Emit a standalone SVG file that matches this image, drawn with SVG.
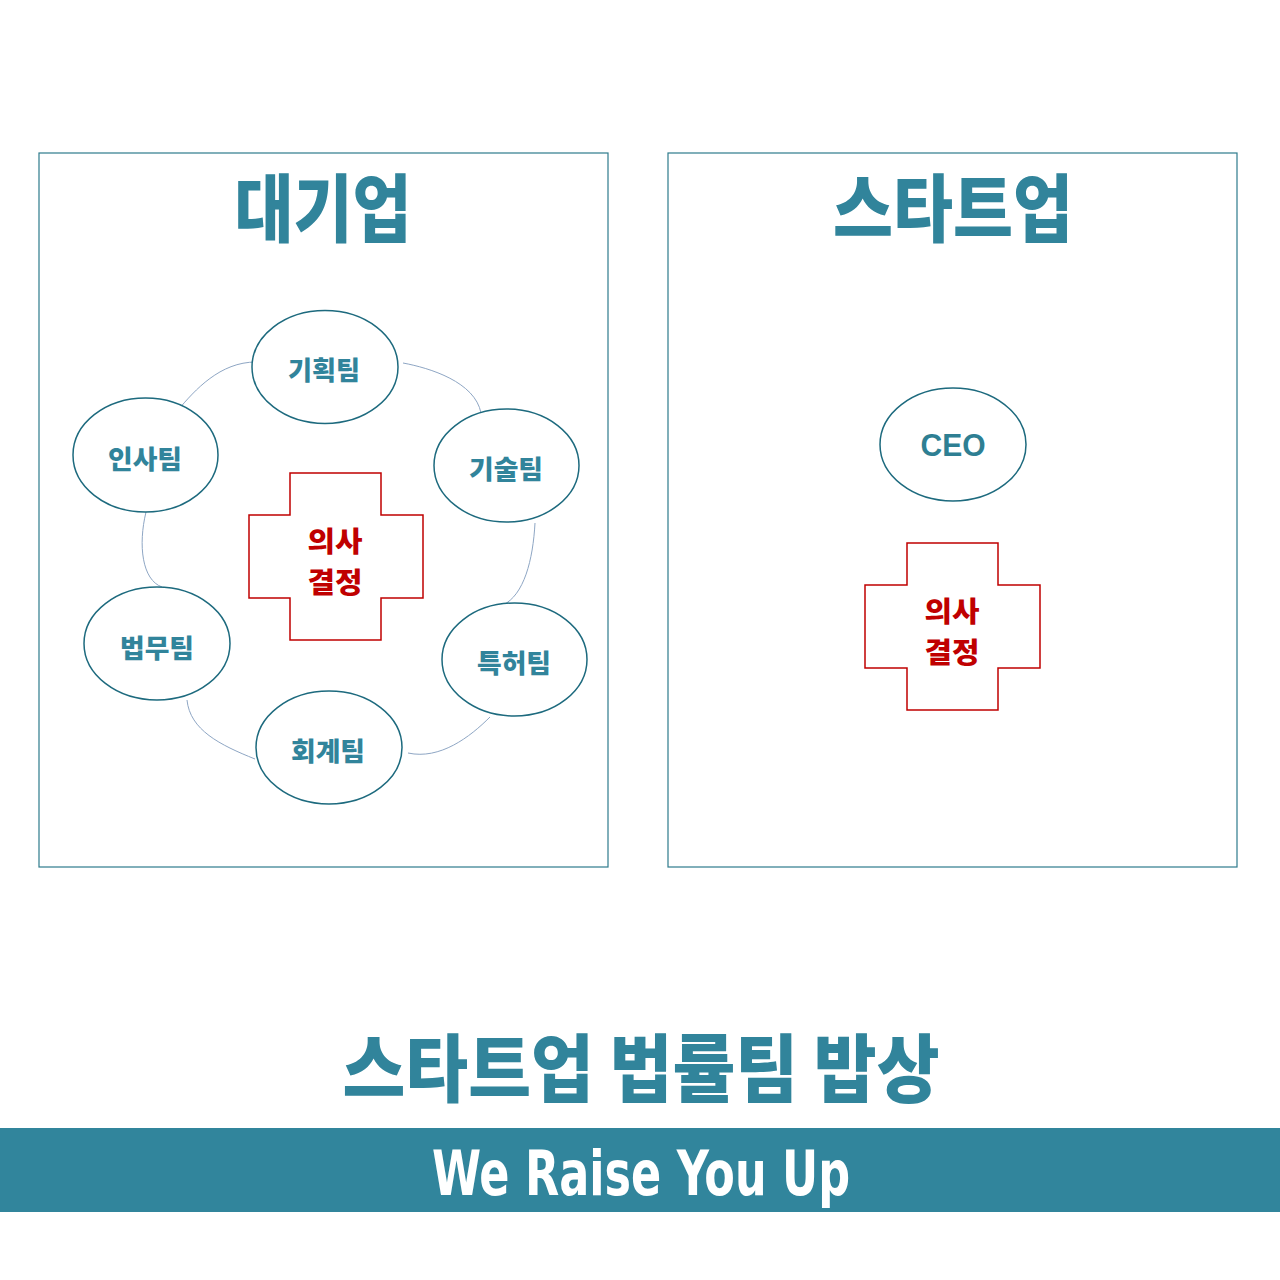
<svg xmlns="http://www.w3.org/2000/svg" width="1280" height="1280" viewBox="0 0 1280 1280">
<style>
.frame{fill:none;stroke:#2E7B8C;stroke-width:1.2}
.team{fill:#fff;stroke:#1D6A7E;stroke-width:1.5}
.cross{fill:#fff;stroke:#C00000;stroke-width:1.5}
.kr{font-family:"Noto Sans CJK KR","Noto Sans",sans-serif;font-weight:900;dominant-baseline:central;text-anchor:middle}
.title{fill:#31849B;font-size:74px}
.lbl{fill:#31849B;font-size:26px}
.red{fill:#C00000;font-size:28px}
.conn{fill:none;stroke:#8EA6C4;stroke-width:1}
</style>
<rect width="1280" height="1280" fill="#fff"/>
<rect class="frame" x="39" y="153" width="569" height="714"/>
<rect class="frame" x="668" y="153" width="569" height="714"/>
<text class="kr title" x="323" y="203" textLength="177" lengthAdjust="spacingAndGlyphs">대기업</text>
<text class="kr title" x="953" y="203" textLength="240" lengthAdjust="spacingAndGlyphs">스타트업</text>
<g id="connectors">
<path class="conn" d="M178,410 C195,390 220,362 256,362"/>
<path class="conn" d="M403,363 C430,368 475,382 481,413"/>
<path class="conn" d="M535,523 C533,560 524,595 503,605"/>
<path class="conn" d="M490,717 C470,737 440,760 408,753"/>
<path class="conn" d="M255,759 C220,745 190,730 187,700"/>
<path class="conn" d="M146,512 C138,545 142,580 162,587"/>
</g>
<g id="node-planning"><ellipse class="team" cx="325" cy="367" rx="73" ry="56.5"/><text class="kr lbl" x="324" y="368" textLength="72" lengthAdjust="spacingAndGlyphs">기획팀</text></g>
<g id="node-hr"><ellipse class="team" cx="145.5" cy="455" rx="72.5" ry="57"/><text class="kr lbl" x="145" y="457" textLength="74" lengthAdjust="spacingAndGlyphs">인사팀</text></g>
<g id="node-tech"><ellipse class="team" cx="506.5" cy="465.5" rx="72.5" ry="56.5"/><text class="kr lbl" x="506" y="467" textLength="74" lengthAdjust="spacingAndGlyphs">기술팀</text></g>
<g id="node-legal"><ellipse class="team" cx="157" cy="643.5" rx="73" ry="56.5"/><text class="kr lbl" x="157" y="646" textLength="74" lengthAdjust="spacingAndGlyphs">법무팀</text></g>
<g id="node-patent"><ellipse class="team" cx="514.5" cy="659.5" rx="72.5" ry="56.5"/><text class="kr lbl" x="514" y="661" textLength="74" lengthAdjust="spacingAndGlyphs">특허팀</text></g>
<g id="node-accounting"><ellipse class="team" cx="329" cy="747.5" rx="73" ry="56.5"/><text class="kr lbl" x="328" y="749" textLength="74" lengthAdjust="spacingAndGlyphs">회계팀</text></g>
<g id="node-decision-left"><path class="cross" d="M290,473 H381 V515 H423 V598 H381 V640 H290 V598 H249 V515 H290 Z"/><text class="kr red" x="335" y="540" textLength="55" lengthAdjust="spacingAndGlyphs">의사</text><text class="kr red" x="335" y="581" textLength="55" lengthAdjust="spacingAndGlyphs">결정</text></g>
<g id="node-ceo"><ellipse class="team" cx="953" cy="444.5" rx="73" ry="56.5"/><text x="953" y="456" text-anchor="middle" font-family="'Liberation Sans',sans-serif" font-weight="bold" font-size="32" fill="#2E7F93" textLength="65" lengthAdjust="spacingAndGlyphs">CEO</text></g>
<g id="node-decision-right"><path class="cross" d="M907,543 H998 V585 H1040 V668 H998 V710 H907 V668 H865 V585 H907 Z"/><text class="kr red" x="952" y="610" textLength="55" lengthAdjust="spacingAndGlyphs">의사</text><text class="kr red" x="952" y="651" textLength="55" lengthAdjust="spacingAndGlyphs">결정</text></g>
<text class="kr title" x="641" y="1063" textLength="597" lengthAdjust="spacingAndGlyphs">스타트업 법률팀 밥상</text>
<rect x="0" y="1128" width="1280" height="84" fill="#31859C"/>
<text x="641" y="1195" text-anchor="middle" font-family="'Liberation Sans Narrow','DejaVu Sans Condensed','Liberation Sans',sans-serif" font-weight="bold" font-size="63" fill="#fff" textLength="418" lengthAdjust="spacingAndGlyphs">We Raise You Up</text>
</svg>
